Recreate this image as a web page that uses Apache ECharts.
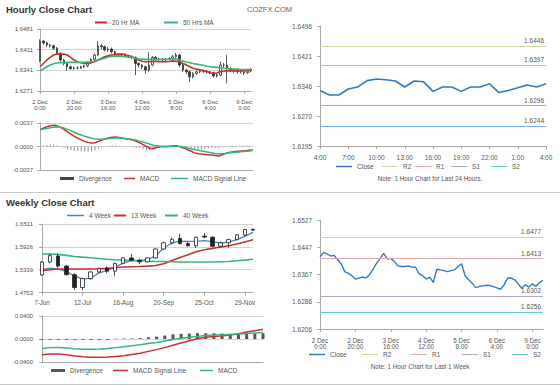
<!DOCTYPE html>
<html>
<head>
<meta charset="utf-8">
<script src="https://cdn.jsdelivr.net/npm/echarts@6/dist/echarts.min.js"></script>
<style>
html,body{margin:0;padding:0;background:#fff;}
#chart{width:560px;height:386px;}
</style>
</head>
<body>
<div id="chart"></div>
<script>
// ================= DATA =================
// --- Hourly close chart (2-hour bars) ---
const hourlyTickLabels = ['2 Dec\n0:00','2 Dec\n20:00','3 Dec\n16:00','4 Dec\n12:00','5 Dec\n8:00','6 Dec\n4:00','9 Dec\n0:00'];
const hourlyYTicks = ['1.6271','1.6341','1.6411','1.6481'];
// [open, close, low, high]
const hourlyOHLC = [
[1.6372,1.6440,1.6368,1.6446],[1.6440,1.6434,1.6428,1.6444],[1.6434,1.6427,1.6420,1.6438],[1.6427,1.6424,1.6418,1.6431],
[1.6424,1.6416,1.6410,1.6428],[1.6416,1.6399,1.6394,1.6420],[1.6399,1.6376,1.6370,1.6402],[1.6376,1.6364,1.6358,1.6380],
[1.6364,1.6353,1.6340,1.6367],[1.6353,1.6347,1.6342,1.6357],[1.6347,1.6349,1.6343,1.6354],[1.6349,1.6349,1.6344,1.6354],
[1.6349,1.6353,1.6346,1.6357],[1.6353,1.6356,1.6349,1.6360],[1.6356,1.6367,1.6352,1.6370],[1.6367,1.6378,1.6362,1.6382],
[1.6378,1.6393,1.6374,1.6398],[1.6393,1.6424,1.6390,1.6440],[1.6424,1.6421,1.6412,1.6430],[1.6421,1.6410,1.6405,1.6425],
[1.6410,1.6413,1.6404,1.6420],[1.6413,1.6404,1.6398,1.6418],[1.6404,1.6393,1.6388,1.6408],[1.6393,1.6393,1.6387,1.6398],
[1.6393,1.6393,1.6388,1.6398],[1.6393,1.6390,1.6385,1.6397],[1.6390,1.6387,1.6382,1.6394],[1.6387,1.6385,1.6379,1.6392],
[1.6385,1.6364,1.6325,1.6388],[1.6364,1.6359,1.6350,1.6368],[1.6359,1.6353,1.6345,1.6362],[1.6353,1.6342,1.6330,1.6356],
[1.6342,1.6359,1.6336,1.6402],[1.6359,1.6385,1.6355,1.6390],[1.6385,1.6378,1.6372,1.6390],[1.6378,1.6378,1.6372,1.6384],
[1.6378,1.6376,1.6370,1.6383],[1.6376,1.6378,1.6371,1.6383],[1.6378,1.6381,1.6374,1.6386],[1.6381,1.6387,1.6377,1.6393],
[1.6387,1.6393,1.6382,1.6400],[1.6393,1.6359,1.6352,1.6396],[1.6359,1.6342,1.6335,1.6363],[1.6342,1.6336,1.6328,1.6346],
[1.6336,1.6319,1.6302,1.6340],[1.6319,1.6330,1.6314,1.6335],[1.6330,1.6336,1.6326,1.6340],[1.6336,1.6338,1.6331,1.6343],
[1.6338,1.6338,1.6332,1.6343],[1.6338,1.6336,1.6330,1.6342],[1.6336,1.6333,1.6327,1.6339],[1.6333,1.6322,1.6317,1.6336],
[1.6322,1.6325,1.6317,1.6330],[1.6325,1.6359,1.6321,1.6370],[1.6359,1.6359,1.6350,1.6366],[1.6359,1.6347,1.6297,1.6393],
[1.6347,1.6342,1.6334,1.6352],[1.6342,1.6339,1.6333,1.6346],[1.6339,1.6336,1.6330,1.6343],[1.6336,1.6336,1.6330,1.6342],
[1.6336,1.6333,1.6326,1.6340],[1.6333,1.6339,1.6329,1.6344],[1.6339,1.6344,1.6334,1.6348]
];
const hourlyMA20 = [1.6353,1.6364,1.6376,1.6385,1.6393,1.6396,1.6396,1.6396,1.6393,1.6385,
1.6376,1.6370,1.6367,1.6364,1.6364,1.6367,1.6370,1.6376,1.6381,1.6387,
1.6390,1.6393,1.6395,1.6396,1.6396,1.6395,1.6390,1.6387,1.6381,1.6376,
1.6372,1.6370,1.6370,1.6371,1.6371,1.6370,1.6370,1.6370,1.6371,1.6373,
1.6372,1.6369,1.6364,1.6359,1.6353,1.6348,1.6345,1.6343,1.6340,1.6337,
1.6333,1.6331,1.6332,1.6337,1.6339,1.6339,1.6339,1.6339,1.6339,1.6339,
1.6340,1.6340,1.6342];
const hourlyMA50 = [1.6339,1.6346,1.6353,1.6359,1.6363,1.6366,1.6367,1.6367,1.6368,1.6368,
1.6368,1.6368,1.6368,1.6368,1.6369,1.6370,1.6372,1.6376,1.6379,1.6382,
1.6386,1.6388,1.6389,1.6389,1.6388,1.6387,1.6386,1.6385,1.6382,1.6380,
1.6379,1.6378,1.6378,1.6378,1.6378,1.6378,1.6378,1.6378,1.6379,1.6380,
1.6379,1.6376,1.6372,1.6369,1.6367,1.6364,1.6362,1.6360,1.6358,1.6355,
1.6353,1.6352,1.6351,1.6350,1.6348,1.6347,1.6346,1.6345,1.6345,1.6344,
1.6344,1.6344,1.6344];
const hourlyMacdTicks = ['-0.0037','0.0000','0.0037'];
const hourlyMACD = [0.00265,0.00290,0.00310,0.00325,0.00333,0.00325,0.00300,0.00270,0.00230,0.00195,
0.00160,0.00130,0.00105,0.00080,0.00065,0.00055,0.00060,0.00080,0.00100,0.00120,
0.00135,0.00145,0.00150,0.00140,0.00130,0.00120,0.00115,0.00100,0.00080,0.00060,
0.00030,0.00000,-0.00030,-0.00030,-0.00015,-0.00005,0.00000,0.00000,0.00005,0.00010,
0.00010,-0.00010,-0.00030,-0.00050,-0.00075,-0.00100,-0.00115,-0.00120,-0.00125,-0.00130,
-0.00135,-0.00140,-0.00150,-0.00130,-0.00110,-0.00095,-0.00085,-0.00080,-0.00075,-0.00070,
-0.00065,-0.00060,-0.00055];
const hourlySignal = [0.00265,0.00275,0.00285,0.00295,0.00305,0.00310,0.00305,0.00290,0.00270,0.00250,
0.00225,0.00200,0.00180,0.00160,0.00145,0.00130,0.00120,0.00115,0.00115,0.00120,
0.00125,0.00130,0.00135,0.00135,0.00130,0.00125,0.00120,0.00110,0.00100,0.00085,
0.00070,0.00055,0.00035,0.00020,0.00010,0.00005,0.00000,0.00000,0.00000,0.00005,
0.00005,0.00000,-0.00010,-0.00025,-0.00035,-0.00050,-0.00060,-0.00070,-0.00080,-0.00090,
-0.00100,-0.00110,-0.00115,-0.00115,-0.00110,-0.00100,-0.00095,-0.00090,-0.00085,-0.00080,
-0.00075,-0.00070,-0.00060];
const hourlyDivergence = [0,0.00015,0.00025,0.0003,0.00028,0.00015,-0.00005,-0.0002,-0.0004,-0.00055,
-0.00065,-0.0007,-0.00075,-0.0008,-0.0008,-0.00075,-0.0006,-0.00035,-0.00015,0,
0.0001,0.00015,0.00015,0.00005,0,-0.00005,-0.00005,-0.0001,-0.0002,-0.00025,
-0.0004,-0.00055,-0.00065,-0.0005,-0.00025,-0.0001,0,0,0.00005,0.00005,
0.00005,-0.0001,-0.0002,-0.00025,-0.0003,-0.00035,-0.0004,-0.0004,-0.00035,-0.0003,
-0.00025,-0.0002,-0.00025,-0.0001,0,0.00005,0.0001,0.0001,0.0001,0.0001,
0.0001,0.0001,0.00005];

// --- Last 24 hours ---
const dayTickLabels = ['4:00','7:00','10:00','13:00','16:00','19:00','22:00','1:00','4:00'];
const dayYTicks = ['1.6195','1.6270','1.6346','1.6421','1.6496'];
const dayClose = [1.6334,1.6323,1.6323,1.6338,1.6343,1.6359,1.6363,1.6361,1.6358,1.6343,1.6358,1.6356,1.6332,
1.6343,1.6343,1.6332,1.6343,1.6343,1.6351,1.6329,1.6334,1.6341,1.6348,1.6343,1.6351];
const pivotNames = ['R2','R1','S1','S2'];
const dayPivots = [1.6446,1.6397,1.6296,1.6244];

// --- Weekly close chart ---
const weekTickLabels = ['7-Jun','12-Jul','16-Aug','20-Sep','25-Oct','29-Nov'];
const weekYTicks = ['1.4753','1.5339','1.5926','1.6511'];
const weeklyOHLC = [
[1.5205,1.5535,1.5180,1.5560],[1.5535,1.5700,1.5500,1.5750],[1.5690,1.5430,1.5390,1.5750],[1.5430,1.5210,1.5190,1.5460],
[1.5210,1.4880,1.4820,1.5250],[1.4880,1.5110,1.4810,1.5130],[1.5110,1.5280,1.5080,1.5300],[1.5280,1.5370,1.5260,1.5390],
[1.5380,1.5300,1.5250,1.5420],[1.5300,1.5500,1.5170,1.5520],[1.5500,1.5640,1.5480,1.5660],[1.5640,1.5580,1.5560,1.5740],
[1.5580,1.5540,1.5480,1.5620],[1.5540,1.5640,1.5520,1.5660],[1.5640,1.5870,1.5620,1.5890],[1.5870,1.6030,1.5850,1.6060],
[1.6030,1.6120,1.5990,1.6160],[1.6140,1.6010,1.5980,1.6260],[1.6010,1.5950,1.5930,1.6050],[1.5950,1.6170,1.5900,1.6190],
[1.6200,1.6175,1.6150,1.6280],[1.6170,1.5940,1.5920,1.6200],[1.5940,1.6030,1.5910,1.6060],[1.6030,1.6110,1.5900,1.6130],
[1.6110,1.6230,1.6090,1.6250],[1.6230,1.6370,1.6210,1.6390],[1.6370,1.6355,1.6330,1.6400]
];
const week4MA = [1.5337,1.5380,1.5355,1.5293,1.5181,1.5097,1.5123,1.5252,1.5320,1.5406,1.5509,1.5568,1.5577,1.5594,
1.5695,1.5894,1.6023,1.6073,1.6064,1.6064,1.6082,1.6056,1.6023,1.6047,1.6108,1.6193,1.6296];
const week13MA = [1.5311,1.5337,1.5355,1.5355,1.5355,1.5355,1.5355,1.5363,1.5372,1.5389,1.5406,1.5414,1.5421,1.5430,
1.5447,1.5490,1.5577,1.5654,1.5722,1.5799,1.5851,1.5885,1.5920,1.5954,1.5997,1.6047,1.6108];
const week40MA = [1.5740,1.5740,1.5731,1.5705,1.5678,1.5660,1.5643,1.5626,1.5608,1.5594,1.5585,1.5577,1.5568,1.5560,
1.5550,1.5550,1.5542,1.5534,1.5534,1.5534,1.5534,1.5534,1.5542,1.5550,1.5568,1.5585,1.5608];
const weekMacdTicks = ['-0.0400','0.0000','0.0400'];
const weekSignal = [-0.0275,-0.0262,-0.0262,-0.0275,-0.0295,-0.0310,-0.0318,-0.0319,-0.0315,-0.0305,-0.0290,-0.0270,-0.0248,-0.0215,
-0.0185,-0.0150,-0.0110,-0.0070,-0.0030,0.0005,0.0030,0.0045,0.0055,0.0070,0.0090,0.0120,0.0145,0.0170];
const weekMACD = [-0.0165,-0.0150,-0.0148,-0.0155,-0.0170,-0.0180,-0.0180,-0.0175,-0.0165,-0.0150,-0.0135,-0.0118,-0.0100,-0.0080,
-0.0060,-0.0035,-0.0010,0.0015,0.0030,0.0045,0.0060,0.0070,0.0075,0.0080,0.0085,0.0095,0.0105,0.0115];
const weekDivergence = [-0.0015,-0.0015,-0.0015,-0.0015,-0.0015,-0.0015,-0.0015,-0.0015,-0.0015,0.0005,0.0008,0.001,0.0015,0.003,
0.004,0.006,0.008,0.009,0.0095,0.010,0.010,0.010,0.0095,0.009,0.009,0.009,0.009,0.010];

// --- Last week, hourly close ---
const lastWeekTickLabels = ['2 Dec\n0:00','2 Dec\n20:00','3 Dec\n16:00','4 Dec\n12:00','5 Dec\n8:00','6 Dec\n4:00','9 Dec\n0:00'];
const lastWeekYTicks = ['1.6206','1.6286','1.6367','1.6447','1.6527'];
const lastWeekClose = [1.6419,1.6431,1.6427,1.6421,1.6423,1.6410,1.6398,1.6375,1.6370,1.6363,
1.6353,1.6356,1.6359,1.6356,1.6366,1.6382,1.6400,1.6414,1.6429,1.6412,
1.6414,1.6405,1.6392,1.6390,1.6390,1.6392,1.6388,1.6388,1.6368,1.6363,
1.6353,1.6359,1.6343,1.6382,1.6380,1.6378,1.6375,1.6378,1.6380,1.6390,
1.6398,1.6363,1.6351,1.6341,1.6328,1.6331,1.6333,1.6335,1.6334,1.6331,
1.6327,1.6323,1.6336,1.6356,1.6356,1.6351,1.6339,1.6326,1.6336,1.6329,
1.6339,1.6331,1.6343,1.6349];
const lastWeekPivots = [1.6477,1.6413,1.6302,1.6256];

// ================= STYLE / BUILD =================
const FONT = '"Liberation Sans", Arial, sans-serif';
const AX = '#a8a8a8', TXT = '#555', SPLIT = '#d2d2d2';
const RED = '#c9302c', GREEN = '#38b57c', BLUE = '#2f7cbf', STEEL = '#4f81bd';
const pivotColors = ['#d5d29c','#e8a6ae','#b1a4d2','#69c5dc'];

function valueAxis(grid, ticks, o) {
  o = o || {};
  const nums = ticks.map(Number);
  const min = nums[0], max = nums[nums.length - 1];
  const interval = (max - min) / (nums.length - 1);
  return {
    type: 'value', gridIndex: grid, min: min, max: max, interval: interval,
    axisLine: {show: true, lineStyle: {color: AX}},
    axisTick: {show: true, length: 3, lineStyle: {color: AX}},
    axisLabel: {fontSize: o.fontSize || 6, color: TXT, fontFamily: FONT, margin: o.margin || 7,
      formatter: v => { const k = Math.round((v - min) / interval); return ticks[k] !== undefined ? ticks[k] : ''; }},
    splitLine: {show: o.split !== false, lineStyle: {color: SPLIT}}
  };
}
function catAxis(grid, n, tickLabels, step, o) {
  o = o || {};
  const show = o.labels !== false;
  return {
    type: 'category', gridIndex: grid, boundaryGap: false,
    data: Array.from({length: n}, (_, i) => String(i)),
    axisLine: {show: true, onZero: false, lineStyle: {color: AX}},
    axisTick: {show: show, interval: step - 1, length: 3, lineStyle: {color: AX}},
    axisLabel: {show: show, interval: step - 1, fontSize: o.fontSize || 6, lineHeight: o.lineHeight || 6.5,
      margin: o.margin || 8, color: TXT, fontFamily: FONT,
      formatter: v => { const i = +v; return i % step === 0 && tickLabels[i / step] !== undefined ? tickLabels[i / step] : ''; }},
    splitLine: {show: false}
  };
}
function lineSeries(name, data, color, xi, width) {
  return {name: name, type: 'line', xAxisIndex: xi, yAxisIndex: xi, data: data, color: color,
    showSymbol: false, symbol: 'none', lineStyle: {width: width || 1.5, color: color}, silent: true, z: 3};
}
// Close series with pivot (R2/R1/S1/S2) reference lines drawn as markLines on the value axis
function closeSeries(data, pivots, xi, width) {
  const s = lineSeries('Close', data, BLUE, xi, width);
  s.z = 4;
  s.markLine = {silent: true, symbol: 'none', animation: false, precision: 4,
    label: {show: true, position: 'insideEndTop', distance: 2, fontSize: 6.5, color: TXT, fontFamily: FONT,
      formatter: p => Number(p.value).toFixed(4)},
    data: pivots.map((v, i) => ({name: pivotNames[i], yAxis: v, lineStyle: {color: pivotColors[i], width: 1, type: 'solid'}}))};
  return s;
}
// empty series used only for legend entries of the pivot lines
function pivotLegendSeries(i, xi) {
  return {name: pivotNames[i], type: 'line', xAxisIndex: xi, yAxisIndex: xi, data: [], color: pivotColors[i], silent: true};
}
const legendText = {wDivergence: 'Divergence', wSignal: 'MACD Signal Line', wMACD: 'MACD'};
function leg(name, textX, cy, w, h, color) {
  const item = color ? {name: name, itemStyle: {color: color}} : {name: name};
  return {data: [item], left: textX - 5 - w, top: cy - 4, itemWidth: w, itemHeight: h || 2, icon: 'rect',
    padding: 0, selectedMode: false, formatter: n => legendText[n] || n,
    textStyle: {fontSize: 6.5, color: TXT, fontFamily: FONT}};
}

const hourlyCount = hourlyOHLC.length;
const option = {
  animation: false,
  backgroundColor: '#fff',
  title: [
    {text: 'Hourly Close Chart', left: 6, top: 4, padding: 0, textStyle: {fontSize: 9.5, fontWeight: 'bold', color: '#333', fontFamily: FONT}},
    {text: 'COZFX.COM', left: 247, top: 5, padding: 0, textStyle: {fontSize: 7.5, fontWeight: 'normal', color: '#666', fontFamily: FONT}},
    {text: 'Weekly Close Chart', left: 6, top: 197, padding: 0, textStyle: {fontSize: 9.5, fontWeight: 'bold', color: '#333', fontFamily: FONT}}
  ],
  grid: [
    {left: 40, top: 29, width: 211, height: 62},
    {left: 40, top: 123, width: 213, height: 47},
    {left: 320, top: 26, width: 226, height: 120},
    {left: 42, top: 224, width: 211, height: 68.5},
    {left: 42, top: 316, width: 221, height: 46},
    {left: 320, top: 220, width: 223, height: 109}
  ],
  xAxis: [
    catAxis(0, hourlyCount, hourlyTickLabels, 10, {margin: 7.5, lineHeight: 6}),
    catAxis(1, hourlyMACD.length, [], 10, {labels: false}),
    catAxis(2, dayClose.length, dayTickLabels, 3, {margin: 7.5, fontSize: 6.5, lineHeight: 7}),
    catAxis(3, weeklyOHLC.length, weekTickLabels, 5, {margin: 6, fontSize: 6.3, lineHeight: 7}),
    catAxis(4, weekMACD.length, [], 5, {labels: false}),
    catAxis(5, lastWeekClose.length, lastWeekTickLabels, 10, {margin: 8.5, fontSize: 6.3, lineHeight: 6})
  ],
  yAxis: [
    valueAxis(0, hourlyYTicks, {margin: 7}),
    valueAxis(1, hourlyMacdTicks, {margin: 7}),
    valueAxis(2, dayYTicks, {margin: 8, split: false, fontSize: 6.5}),
    valueAxis(3, weekYTicks, {margin: 9}),
    valueAxis(4, weekMacdTicks, {margin: 9}),
    valueAxis(5, lastWeekYTicks, {margin: 8, split: false, fontSize: 6.5})
  ],
  legend: [
    leg('20 Hr MA', 112, 23, 12, 2),
    leg('50 Hrs MA', 183, 23, 14, 2),
    leg('Divergence', 79, 179, 14, 3, '#444'),
    leg('MACD', 140, 179, 11, 1.5),
    leg('MACD Signal Line', 193, 179, 17, 1.5),
    leg('Close', 357, 167, 16, 1.5),
    leg('R2', 403, 167, 16, 1),
    leg('R1', 436, 167, 16, 1),
    leg('S1', 472, 167, 16, 1),
    leg('S2', 512, 167, 16, 1),
    leg('4 Week', 89, 216, 17, 1.5),
    leg('13 Week', 131, 216, 12, 2),
    leg('40 Week', 183, 216, 13, 2),
    leg('wDivergence', 70, 371, 14, 3),
    leg('wSignal', 133, 371, 15, 1.5),
    leg('wMACD', 218, 371, 13, 1.5),
    leg('Close', 330, 355, 16, 1.5),
    leg('R2', 383, 355, 16, 1),
    leg('R1', 432, 355, 16, 1),
    leg('S1', 483, 355, 16, 1),
    leg('S2', 533, 355, 16, 1)
  ],
  series: [
    {name: 'Hourly', type: 'candlestick', xAxisIndex: 0, yAxisIndex: 0, data: hourlyOHLC, barWidth: 2, silent: true,
      itemStyle: {color: '#ffffff', color0: '#333333', borderColor: '#333333', borderColor0: '#333333', borderWidth: 0.8}},
    lineSeries('20 Hr MA', hourlyMA20, RED, 0, 1.6),
    lineSeries('50 Hrs MA', hourlyMA50, GREEN, 0, 1.6),
    {name: 'Divergence', type: 'bar', xAxisIndex: 1, yAxisIndex: 1, data: hourlyDivergence, color: '#8c8c8c', barWidth: 1, silent: true},
    lineSeries('MACD', hourlyMACD, RED, 1, 1.5),
    lineSeries('MACD Signal Line', hourlySignal, GREEN, 1, 1.5),
    closeSeries(dayClose, dayPivots, 2, 1.6),
    pivotLegendSeries(0, 2), pivotLegendSeries(1, 2), pivotLegendSeries(2, 2), pivotLegendSeries(3, 2),
    {name: 'Weekly', type: 'candlestick', xAxisIndex: 3, yAxisIndex: 3, data: weeklyOHLC, barWidth: 4, silent: true, z: 4,
      itemStyle: {color: '#ffffff', color0: '#222222', borderColor: '#222222', borderColor0: '#222222', borderWidth: 0.8}},
    lineSeries('4 Week', week4MA, STEEL, 3, 1.3),
    lineSeries('13 Week', week13MA, RED, 3, 1.6),
    lineSeries('40 Week', week40MA, GREEN, 3, 1.6),
    {name: 'wDivergence', type: 'bar', xAxisIndex: 4, yAxisIndex: 4, data: weekDivergence, color: '#555555', barWidth: 3, silent: true},
    lineSeries('wSignal', weekSignal, RED, 4, 1.5),
    lineSeries('wMACD', weekMACD, GREEN, 4, 1.5),
    closeSeries(lastWeekClose, lastWeekPivots, 5, 1.4)
  ],
  graphic: [
    {type: 'line', silent: true, shape: {x1: 0, y1: 192.5, x2: 560, y2: 192.5}, style: {stroke: '#c8c8c8', lineWidth: 1}},
    {type: 'line', silent: true, shape: {x1: 0, y1: 384.5, x2: 560, y2: 384.5}, style: {stroke: '#c8c8c8', lineWidth: 1}},
    {type: 'text', silent: true, x: 430, y: 178, style: {text: 'Note: 1 Hour Chart for Last 24 Hours.', align: 'center', verticalAlign: 'middle', fontSize: 6.3, fill: TXT, fontFamily: FONT}},
    {type: 'text', silent: true, x: 420, y: 366, style: {text: 'Note: 1 Hour Chart for Last 1 Week', align: 'center', verticalAlign: 'middle', fontSize: 6.3, fill: TXT, fontFamily: FONT}}
  ]
};
const chart = echarts.init(document.getElementById('chart'), null, {renderer: 'svg', width: 560, height: 386});
chart.setOption(option);
</script>
</body>
</html>
